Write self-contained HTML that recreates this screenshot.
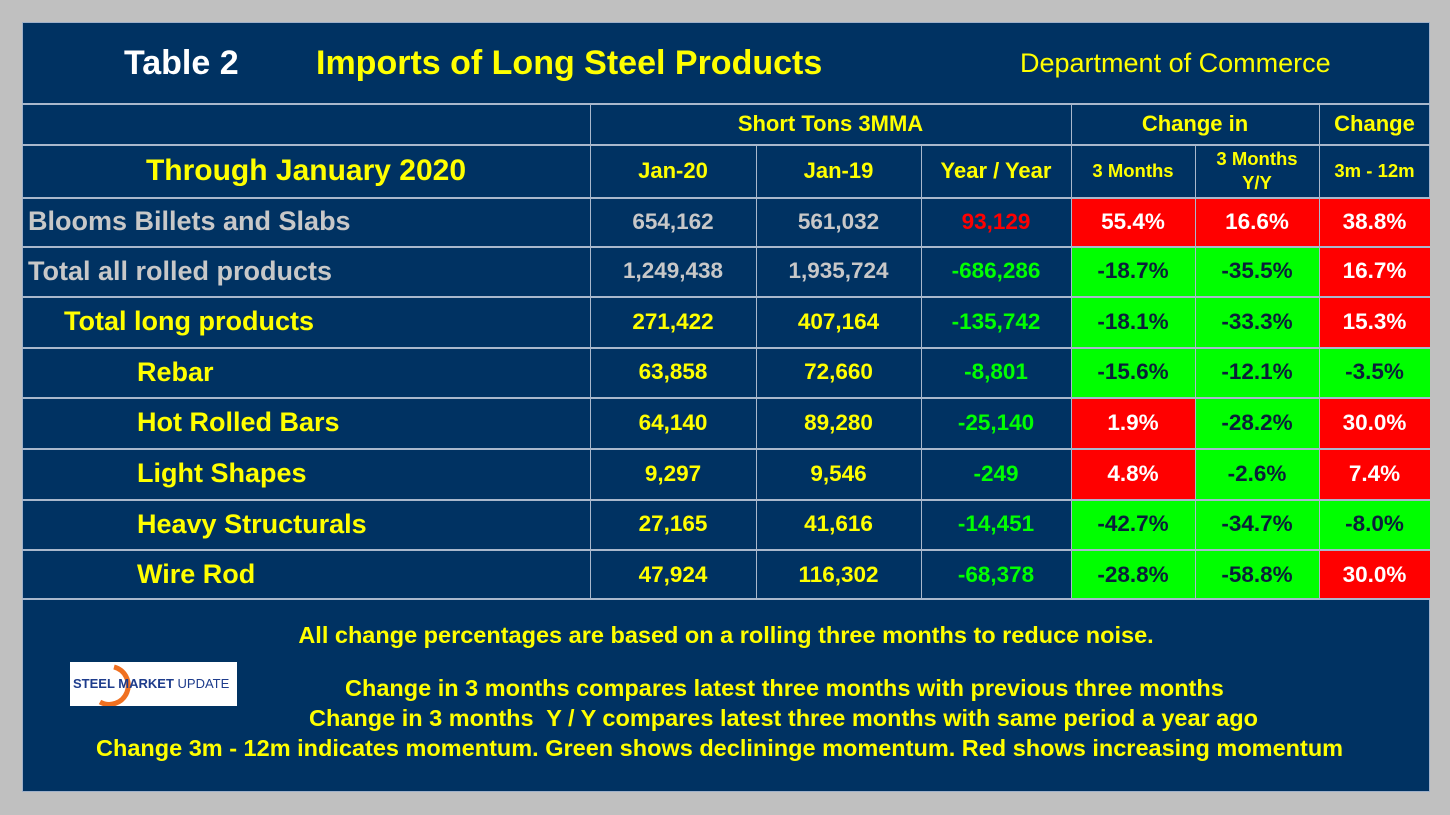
<!DOCTYPE html>
<html><head><meta charset="utf-8">
<style>
body{margin:0;width:1450px;height:815px;background:#c0c0c0;font-family:"Liberation Sans",sans-serif;font-weight:bold;overflow:hidden;position:relative}
#panel{position:absolute;left:22px;top:22px;width:1408px;height:770px;background:#003262;border:1px solid #9fb0c8;box-sizing:border-box}
.c{position:absolute;box-sizing:border-box;display:flex;align-items:center;justify-content:center;white-space:nowrap}
.ln{position:absolute;background:#a9b8cc}
.t{position:absolute;white-space:nowrap}
</style></head><body>
<div id="panel"></div>
<div class="t" style="left:124px;top:44px;font-size:34px;color:#fff">Table 2</div>
<div class="t" style="left:316px;top:44px;font-size:34px;color:#ffff00">Imports of Long Steel Products</div>
<div class="t" style="left:1020px;top:48px;font-size:27px;font-weight:normal;color:#ffff00">Department of Commerce</div>
<div class="t" style="left:0;width:1452px;text-align:center;top:622px;font-size:23.5px;color:#ffff00">All change percentages are based on a rolling three months to reduce noise.</div>
<div class="t" style="left:345px;top:675px;font-size:23.5px;color:#ffff00">Change in 3 months compares latest three months with previous three months</div>
<div class="t" style="left:309px;top:705px;font-size:23.5px;color:#ffff00">Change in 3 months&nbsp; Y / Y compares latest three months with same period a year ago</div>
<div class="t" style="left:96px;top:735px;font-size:23.5px;color:#ffff00">Change 3m - 12m indicates momentum. Green shows declininge momentum. Red shows increasing momentum</div>
<div style="position:absolute;left:70px;top:662px;width:167px;height:44px;background:#fff">
<svg width="167" height="44" style="position:absolute;left:0;top:0"><path d="M44 5 A19 19 0 1 1 30 40" fill="none" stroke="#f07020" stroke-width="5"/></svg>
<span style="position:absolute;left:3px;top:14px;font-size:13px;color:#1e3c8c">STEEL <span style="font-weight:bold">MARKET</span> <span style="font-weight:normal">UPDATE</span></span>
</div>
<script>
const rows=["Blooms Billets and Slabs","Total all rolled products","Total long products","Rebar","Hot Rolled Bars","Light Shapes","Heavy Structurals","Wire Rod"];
const jan20=["654,162","1,249,438","271,422","63,858","64,140","9,297","27,165","47,924"];
const jan19=["561,032","1,935,724","407,164","72,660","89,280","9,546","41,616","116,302"];
const yoy=["93,129","-686,286","-135,742","-8,801","-25,140","-249","-14,451","-68,378"];
const ch3=["55.4%","-18.7%","-18.1%","-15.6%","1.9%","4.8%","-42.7%","-28.8%"];
const ch3yy=["16.6%","-35.5%","-33.3%","-12.1%","-28.2%","-2.6%","-34.7%","-58.8%"];
const mom=["38.8%","16.7%","15.3%","-3.5%","30.0%","7.4%","-8.0%","30.0%"];
const indent=[28,28,64,137,137,137,137,137];
const xs=[22,590,756,921,1071,1195,1319,1430];
const ys=[197,246,296,347,397,448,499,549,600];
function cell(name,x,y,w,h,txt,fs,col,bg,left){
  const d=document.createElement('div');d.className='c';
  
  
  d.style.cssText=`left:${x}px;top:${y}px;width:${w}px;height:${h}px;font-size:${fs}px;color:${col};${bg?'background:'+bg+';':''}${left!==undefined?'justify-content:flex-start;padding-left:'+left+'px;':''}`;
  d.innerHTML=txt;document.body.appendChild(d);return d;
}
function line(x,y,w,h){const l=document.createElement('div');l.className='ln';
  
  
  l.style.cssText=`left:${x}px;top:${y}px;width:${w}px;height:${h}px`;document.body.appendChild(l);}
for(let i=0;i<rows.length;i++){
  const y=ys[i],h=ys[i+1]-y;
  const lc=i<2?'#c8c8c8':'#ffff00';
  cell('row-label',xs[0],y,568,h,rows[i],27,lc,null,indent[i]-22);
  cell('jan20-value',xs[1],y,xs[2]-xs[1],h,jan20[i],22.5,lc);
  cell('jan19-value',xs[2],y,xs[3]-xs[2],h,jan19[i],22.5,lc);
  cell('year-over-year-value',xs[3],y,xs[4]-xs[3],h,yoy[i],22.5,yoy[i][0]=='-'?'#00ff00':'#ff0000');
  const cols=[ch3,ch3yy,mom],names=['change-3-months','change-3-months-yy','change-3m-12m'];
  for(let k=0;k<3;k++){const v=cols[k][i];
    const isRed=v[0]!='-';
    cell(names[k],xs[4+k],y,xs[5+k]-xs[4+k],h,v,22.5,isRed?'#ffffff':'#0a1f3a',isRed?'#ff0000':'#00ff00');}
}
cell('header-short-tons',590,103,481,41,'Short Tons 3MMA',22,'#ffff00');
cell('header-change-in',1071,103,248,41,'Change in',22,'#ffff00');
cell('header-change',1319,103,111,41,'Change',22,'#ffff00');
cell('header-through',22,144,568,53,'Through January 2020',30,'#ffff00');
cell('header-jan20',590,144,166,53,'Jan-20',22,'#ffff00');
cell('header-jan19',756,144,165,53,'Jan-19',22,'#ffff00');
cell('header-year-year',921,144,150,53,'Year / Year',22,'#ffff00');
cell('header-3-months',1071,144,124,53,'3 Months',18.5,'#ffff00');
cell('header-3-months-yy',1195,144,124,53,'<div style="text-align:center;line-height:24px">3 Months<br>Y/Y</div>',18.5,'#ffff00');
cell('header-3m-12m',1319,144,111,53,'3m - 12m',18.5,'#ffff00');
[103,144,197,246,296,347,397,448,499,549,598].forEach(y=>line(22,y,1408,2));
line(590,103,1,497);line(1071,103,1,497);line(1319,103,1,497);
line(756,144,1,456);line(921,144,1,456);line(1195,144,1,456);
</script>
</body></html>
